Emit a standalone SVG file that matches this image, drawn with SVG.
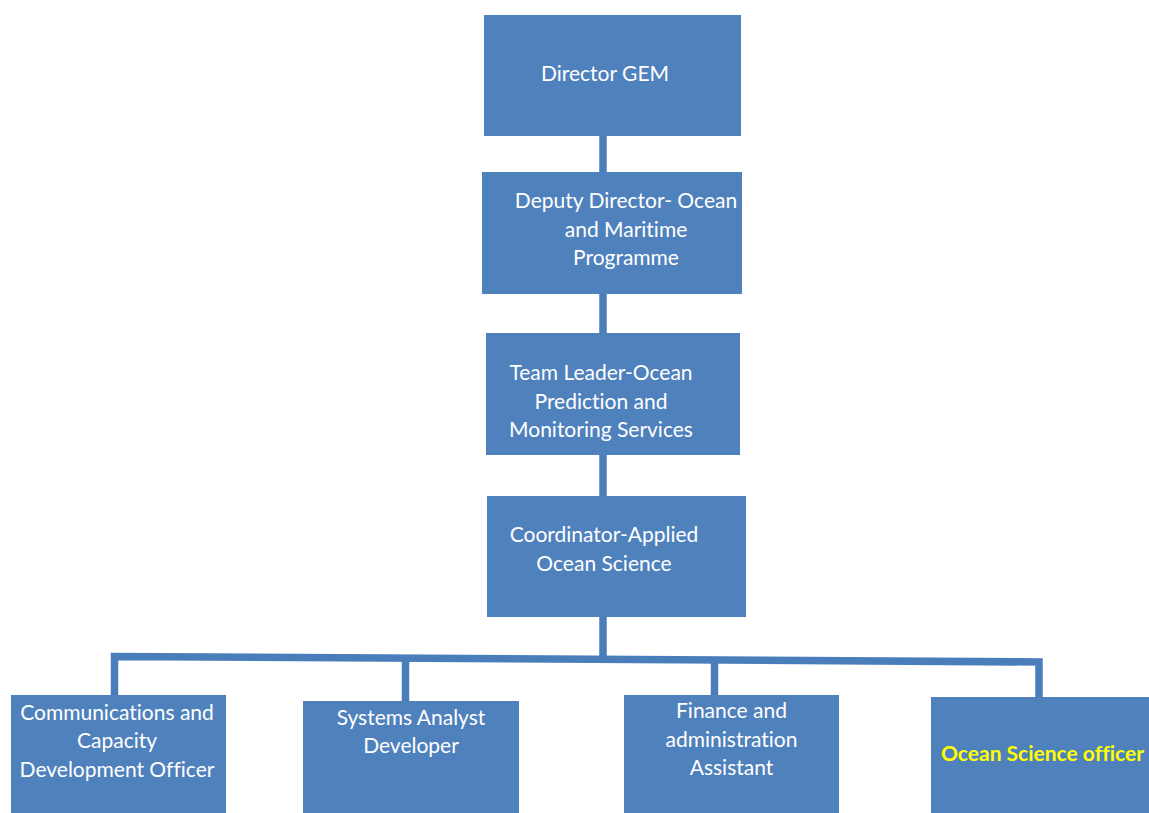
<svg xmlns="http://www.w3.org/2000/svg" width="1149" height="813" viewBox="0 0 1149 813">
<style>
.box{fill:#4f81bd}
.t{font-family:Lato,"Liberation Sans",sans-serif;font-size:21px;fill:#ffffff;text-anchor:middle;font-variant-ligatures:none;font-feature-settings:"liga" 0,"clig" 0}
.y{fill:#ffff00;font-weight:bold}
.c{fill:none;stroke:#4a7ebb;stroke-width:7.5;stroke-linejoin:miter}
</style>
<rect width="1149" height="813" fill="#ffffff"/>
<g id="connectors">
<line class="c" x1="603" y1="135" x2="603" y2="173"/>
<line class="c" x1="603" y1="293" x2="603" y2="334"/>
<line class="c" x1="603" y1="454" x2="603" y2="497"/>
<line class="c" x1="603" y1="616" x2="603" y2="661"/>
<path class="c" d="M114.5,696 L114.5,656.5 L1039,662 L1039,698"/>
<line class="c" x1="405.5" y1="658" x2="405.5" y2="702"/>
<line class="c" x1="714.5" y1="660" x2="714.5" y2="696"/>
</g>
<g id="director">
<rect class="box" x="484" y="15" width="257" height="121"/>
<text class="t" x="605" y="81">Director GEM</text>
</g>
<g id="deputy">
<rect class="box" x="482" y="172" width="260" height="122"/>
<text class="t" x="626" y="208">Deputy Director- Ocean</text>
<text class="t" x="626" y="236.5">and Maritime</text>
<text class="t" x="626" y="265">Programme</text>
</g>
<g id="teamleader">
<rect class="box" x="486" y="333" width="254" height="122"/>
<text class="t" x="601" y="380">Team Leader-Ocean</text>
<text class="t" x="601" y="408.5">Prediction and</text>
<text class="t" x="601" y="437">Monitoring Services</text>
</g>
<g id="coordinator">
<rect class="box" x="487" y="496" width="259" height="121"/>
<text class="t" x="604" y="542">Coordinator-Applied</text>
<text class="t" x="604" y="570.5">Ocean Science</text>
</g>
<g id="comms">
<rect class="box" x="11" y="695" width="215" height="118"/>
<text class="t" x="117" y="720">Communications and</text>
<text class="t" x="117" y="748">Capacity</text>
<text class="t" x="117" y="776.5">Development Officer</text>
</g>
<g id="systems">
<rect class="box" x="303" y="701" width="216" height="112"/>
<text class="t" x="411" y="725">Systems Analyst</text>
<text class="t" x="411" y="753">Developer</text>
</g>
<g id="finance">
<rect class="box" x="624" y="695" width="215" height="118"/>
<text class="t" x="731.5" y="718">Finance and</text>
<text class="t" x="731.5" y="746.5">administration</text>
<text class="t" x="731.5" y="775">Assistant</text>
</g>
<g id="oceanscience">
<rect class="box" x="931" y="697" width="218" height="116"/>
<text class="t y" x="1042.5" y="761">Ocean Science officer</text>
</g>
</svg>
